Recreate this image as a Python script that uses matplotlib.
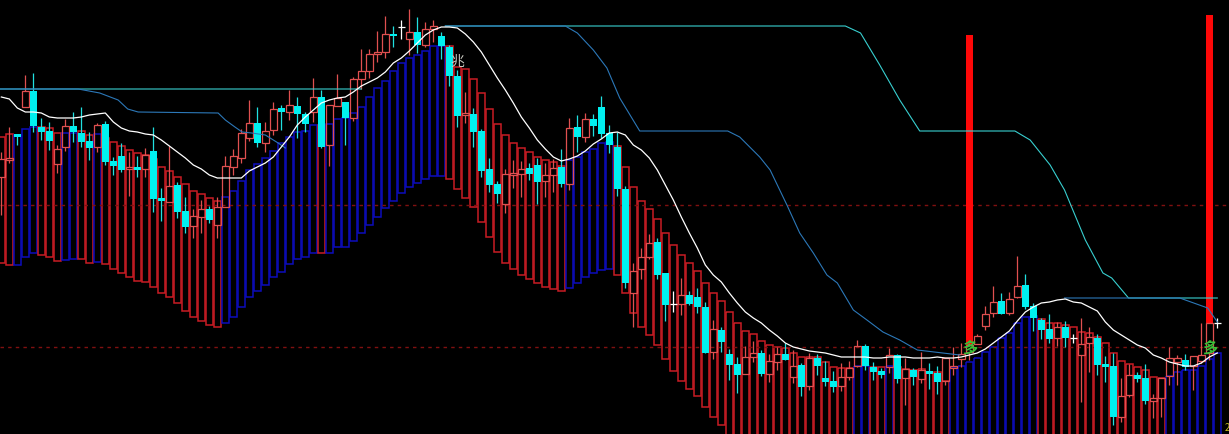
import matplotlib
matplotlib.use('Agg')
import matplotlib.pyplot as plt

plt.rcParams['font.family'] = ['Noto Sans CJK SC', 'DejaVu Sans']

# histogram columns behind the candles
hist_top = [137, 134, 135, 129, 127, 127, 128, 133, 133, 133,
            131, 135, 134, 138, 142, 146, 150, 153, 155, 159,
            167, 171, 177, 184, 191, 194, 198, 201, 197, 191,
            181, 170, 164, 158, 151, 143, 137, 132, 131, 125,
            125, 124, 119, 118, 113, 107, 97, 88, 81, 71,
            63, 58, 55, 51, 46, 46, 46, 67, 69, 79,
            93, 109, 124, 135, 143, 148, 152, 157, 160, 162,
            166, 160, 157, 152, 149, 143, 142, 146, 167, 187,
            201, 209, 219, 233, 245, 255, 263, 271, 283, 293,
            301, 312, 323, 331, 334, 341, 345, 347, 348, 353,
            357, 357, 357, 362, 367, 368, 368, 366, 366, 367,
            367, 366, 367, 369, 370, 369, 372, 372, 381, 367,
            366, 362, 358, 352, 347, 338, 333, 323, 317, 316,
            319, 323, 323, 325, 327, 332, 333, 337, 343, 353,
            361, 364, 367, 370, 377, 378, 376, 372, 370, 370,
            366, 359, 353]
hist_bot = [263, 265, 265, 257, 253, 255, 257, 261, 260, 259,
            259, 263, 262, 264, 269, 273, 277, 281, 282, 287,
            293, 297, 303, 311, 317, 321, 325, 327, 323, 317,
            307, 297, 291, 285, 277, 272, 264, 259, 257, 253,
            253, 253, 247, 247, 241, 233, 225, 217, 208, 201,
            193, 187, 183, 179, 176, 176, 179, 189, 198, 207,
            222, 237, 252, 263, 269, 275, 279, 283, 287, 289,
            291, 288, 283, 277, 273, 270, 269, 275, 293, 313,
            327, 335, 345, 359, 371, 381, 389, 396, 407, 417,
            425, 440, 440, 440, 440, 440, 440, 440, 440, 440,
            440, 440, 440, 440, 440, 440, 440, 440, 440, 440,
            440, 440, 440, 440, 440, 440, 440, 440, 440, 440,
            440, 440, 440, 440, 440, 440, 440, 440, 440, 440,
            440, 440, 440, 440, 440, 440, 440, 440, 440, 440,
            440, 440, 440, 440, 440, 440, 440, 440, 440, 440,
            440, 440, 440]
hist_kind = ('rrbbbrrrbb' 'rrbrrrrrrr' 'rrrrrrrrbb' 'bbbbbbbbbb'
             'rbbbbbbbbb' 'bbbbbbrrrr' 'rrrrrrrrrr' 'rbbbbbbrrr'
             'rrrrrrrrrr' 'rrrrrrrrrr' 'rrrrrrrbbr' 'rbrrrrrrrb'
             'bbbbbbbbbb' 'rrrrrrrrrr' 'rrrrrrbbbb' 'bbb')

# candles, kind: u hollow red, d filled cyan, w white doji
body_top = [159, 158, 134, 91, 91, 127, 131, 149, 126, 126,
            133, 141, 125, 124, 161, 156, 167, 167, 155, 151,
            198, 186, 185, 211, 216, 209, 209, 207, 166, 156,
            133, 123, 123, 131, 109, 108, 105, 106, 114, 97,
            97, 105, 98, 102, 79, 71, 54, 52, 34, 34,
            27, 32, 32, 29, 26, 36, 47, 76, 113, 114,
            131, 169, 184, 174, 173, 169, 168, 165, 175, 168,
            167, 128, 127, 119, 119, 107, 133, 147, 189, 271,
            257, 243, 242, 273, 304, 295, 295, 297, 307, 329,
            330, 354, 364, 357, 353, 353, 361, 354, 354, 366,
            365, 358, 358, 378, 381, 377, 368, 346, 346, 367,
            371, 355, 355, 369, 370, 370, 371, 373, 358, 366,
            354, 345, 336, 314, 302, 301, 299, 286, 285, 306,
            320, 329, 327, 327, 338, 344, 337, 338, 364, 366,
            396, 375, 375, 378, 398, 378, 358, 358, 360, 356,
            355, 323, 323]
body_bot = [177, 160, 137, 107, 126, 132, 141, 164, 147, 132,
            142, 148, 147, 162, 166, 170, 169, 170, 169, 199,
            201, 202, 212, 227, 226, 217, 220, 225, 207, 167,
            158, 138, 143, 143, 130, 112, 112, 114, 124, 112,
            147, 145, 106, 118, 118, 79, 71, 54, 52, 36,
            27, 39, 45, 45, 29, 46, 76, 116, 115, 132,
            171, 185, 194, 204, 175, 174, 174, 182, 181, 175,
            184, 184, 137, 137, 126, 134, 145, 189, 283, 293,
            269, 257, 275, 305, 304, 304, 304, 307, 353, 352,
            342, 365, 375, 374, 357, 374, 374, 362, 360, 377,
            387, 386, 366, 382, 387, 386, 377, 366, 366, 372,
            375, 367, 379, 378, 377, 379, 374, 382, 381, 368,
            359, 352, 344, 326, 313, 314, 313, 297, 307, 318,
            330, 339, 338, 338, 338, 355, 343, 365, 367, 417,
            417, 395, 379, 401, 401, 398, 376, 362, 367, 366,
            361, 353, 323]
wick_high = [152, 127, 134, 75, 73, 118, 122, 145, 119, 112,
             107, 132, 123, 121, 157, 143, 152, 156, 148, 127,
             188, 146, 182, 197, 209, 200, 206, 197, 156, 149,
             129, 100, 107, 122, 102, 105, 90, 97, 112, 78,
             90, 105, 74, 102, 77, 49, 49, 31, 16, 26,
             20, 9, 17, 22, 20, 32, 45, 70, 92, 108,
             129, 158, 181, 169, 160, 161, 163, 158, 163, 159,
             149, 118, 115, 113, 114, 96, 125, 132, 186, 263,
             248, 234, 238, 273, 291, 278, 291, 288, 302, 320,
             327, 349, 357, 346, 341, 350, 354, 347, 343, 350,
             363, 353, 354, 361, 371, 363, 361, 340, 344, 362,
             368, 348, 354, 358, 368, 352, 363, 366, 358, 347,
             343, 343, 334, 306, 286, 293, 292, 256, 274, 303,
             318, 314, 322, 321, 334, 318, 327, 334, 356, 353,
             378, 364, 372, 364, 394, 378, 347, 355, 354, 356,
             323, 323, 318]
wick_low = [215, 163, 145, 107, 132, 140, 150, 173, 151, 142,
            147, 160, 152, 165, 175, 172, 196, 177, 177, 212,
            221, 202, 218, 233, 238, 233, 223, 238, 207, 175,
            163, 141, 147, 152, 135, 130, 120, 138, 132, 122,
            148, 166, 106, 145, 121, 89, 78, 62, 58, 47,
            39, 55, 53, 47, 42, 59, 86, 127, 123, 147,
            177, 192, 203, 213, 188, 197, 180, 204, 197, 192,
            187, 190, 152, 142, 136, 138, 153, 196, 288, 327,
            279, 259, 279, 321, 312, 315, 305, 313, 353, 359,
            352, 380, 393, 374, 362, 376, 382, 370, 360, 383,
            396, 390, 375, 386, 392, 391, 380, 367, 370, 380,
            378, 373, 383, 405, 385, 383, 389, 394, 385, 375,
            367, 360, 344, 330, 317, 314, 315, 298, 309, 331,
            339, 343, 346, 347, 343, 402, 372, 375, 382, 425,
            422, 397, 382, 404, 418, 417, 385, 385, 370, 390,
            363, 360, 328]
candle_kind = ['u', 'u', 'd', 'u', 'd', 'd', 'd', 'u', 'u', 'd',
               'd', 'd', 'u', 'd', 'd', 'd', 'u', 'd', 'u', 'd',
               'd', 'u', 'd', 'd', 'u', 'u', 'd', 'u', 'u', 'u',
               'u', 'u', 'd', 'u', 'u', 'd', 'u', 'd', 'd', 'u',
               'd', 'u', 'u', 'd', 'u', 'u', 'u', 'u', 'u', 'd',
               'w', 'u', 'd', 'u', 'u', 'd', 'd', 'd', 'u', 'd',
               'd', 'd', 'd', 'u', 'u', 'u', 'd', 'd', 'u', 'u',
               'd', 'u', 'd', 'u', 'd', 'd', 'd', 'd', 'd', 'u',
               'u', 'u', 'd', 'd', 'w', 'u', 'd', 'd', 'd', 'u',
               'd', 'd', 'd', 'u', 'u', 'd', 'u', 'u', 'd', 'u',
               'd', 'u', 'd', 'd', 'd', 'u', 'u', 'u', 'd', 'd',
               'd', 'u', 'd', 'u', 'd', 'u', 'd', 'd', 'u', 'u',
               'u', 'u', 'u', 'u', 'u', 'd', 'u', 'u', 'd', 'd',
               'd', 'd', 'u', 'd', 'w', 'u', 'u', 'd', 'd', 'd',
               'u', 'u', 'd', 'd', 'u', 'u', 'u', 'u', 'd', 'u',
               'u', 'u', 'w']

# white moving average, one value per bar
white_line = [97, 99, 108, 112, 112, 113, 117, 118, 118, 118,
              117, 115, 114, 113, 122, 128, 131, 132, 134, 135,
              140, 146, 152, 158, 165, 169, 175, 178, 178, 178,
              178, 171, 167, 163, 157, 147, 137, 125, 117, 110,
              103, 100, 98, 97, 92, 86, 82, 78, 72, 63,
              58, 51, 43, 35, 30, 27, 27, 28, 34, 42,
              52, 65, 78, 90, 103, 117, 128, 140, 149, 157,
              161, 159, 156, 151, 144, 139, 133, 132, 135, 145,
              150, 158, 170, 185, 200, 217, 233, 248, 265, 275,
              282, 293, 303, 312, 318, 323, 330, 336, 343, 347,
              349, 351, 352, 353, 355, 357, 357, 357, 357, 358,
              358, 357, 357, 357, 358, 358, 358, 357, 358, 358,
              357, 355, 353, 349, 343, 337, 331, 321, 312, 307,
              303, 302, 300, 299, 302, 303, 307, 311, 322, 330,
              335, 340, 345, 348, 355, 358, 362, 364, 366, 366,
              363, 357, 353]

# stepped lines, bar position and level
cyan_x = [-1, 45, None, 55.5, 105.5, 107.4, 109.8, 112.3, 114.8, 126.7, 128.6, 131.1,
          132.9, 135.5, 137.7, 138.8, 140.9, 152]
cyan_y = [89, 89, None, 26, 26, 33, 65, 100, 131, 131, 140, 165,
          190, 240, 273, 278, 298, 298]
blue_x = [-1, 9.6, 12.3, 14.6, 15.8, 17.1, 27.1, 28, 29.2, 30.1, 31.3, 33, 34.6, 35.5, None,
          55.5, 70.5, 72, 74, 75.7, 77.3, 79.8, 90.8, 92.3, 94.8, 96.1, 98.2, 99.8, 101.5,
          103.2, 104.5, 106.5, 108.2, 110.2, 112.3, 114.5, 119.8, None,
          132.9, 147.3, 150.8, 152]
blue_y = [89, 89, 93, 100, 109, 112, 113, 120, 127, 132, 133, 135, 143, 148, None,
          26, 26, 33, 50, 68, 98, 131, 131, 137, 157, 170, 205, 233, 253,
          275, 283, 310, 320, 332, 340, 350, 355, None,
          298, 298, 308, 322]

# red signal spikes and the levels of the two dashed lines
spike_bar = [121, 151]
spike_top = [35, 15]
spike_bot = [345, 323]
dash_levels = [205, 347]

bars = list(range(len(hist_top)))

fig = plt.figure(figsize=(12.29, 4.34), dpi=100, facecolor='black')
ax = fig.add_axes([0, 0, 1, 1], facecolor='black')
ax.set_xlim(-0.1667, 153.46)
ax.set_ylim(434, 0)
ax.axis('off')

for b, t, k, h in zip(bars, hist_top, hist_kind, hist_bot):
    col = '#c81c24' if k == 'r' else '#0c0cbc'
    ax.bar(b, h - t, bottom=t, width=0.8, fill=False, edgecolor=col, linewidth=1.1, zorder=2)

ax.bar(spike_bar, [b - t for t, b in zip(spike_top, spike_bot)], bottom=spike_top,
       width=0.85, color='#ff0808', zorder=3)

for level in dash_levels:
    ax.axhline(level, color='#801010', linewidth=1.0, linestyle=(0, (2.5, 3)), zorder=2.5)

for b, t, l, hi, lo, k in zip(bars, body_top, body_bot, wick_high, wick_low, candle_kind):
    if k == 'd':
        ax.vlines(b, hi, lo, color='#20e0e0', linewidth=0.9, zorder=4)
        ax.bar(b, l - t, bottom=t, width=0.8, color='#00f0f0', zorder=4)
    elif k == 'w':
        ax.vlines(b, hi, lo, color='white', linewidth=0.9, zorder=4)
        ax.hlines(t, b - 0.4, b + 0.4, color='white', linewidth=0.9, zorder=4)
    else:
        ax.vlines(b, hi, t, color='#e05050', linewidth=0.9, zorder=4)
        ax.vlines(b, l, lo, color='#e05050', linewidth=0.9, zorder=4)
        ax.bar(b, l - t, bottom=t, width=0.8, fill=False, edgecolor='#e05050', linewidth=0.9, zorder=4)

ax.plot(cyan_x, cyan_y, color='#38cfd0', linewidth=0.8, zorder=5)
ax.plot(blue_x, blue_y, color='#2c78b8', linewidth=0.8, zorder=5.5)
ax.plot(bars, white_line, color='white', linewidth=0.9, zorder=6)

ax.text(57, 62, '兆', color='#c8c8c0', fontsize=10, ha='center', va='center', zorder=7)
ax.text(121, 349, '多', color='#38c038', fontsize=11, fontweight='bold', ha='center', va='center', zorder=7)
ax.text(151, 349, '多', color='#38c038', fontsize=11, fontweight='bold', ha='center', va='center', zorder=7)
ax.text(152.9, 423, '2', color='#c8c020', fontsize=7, ha='left', va='top', zorder=7)

fig.savefig('out.png', dpi=100, facecolor='black')
